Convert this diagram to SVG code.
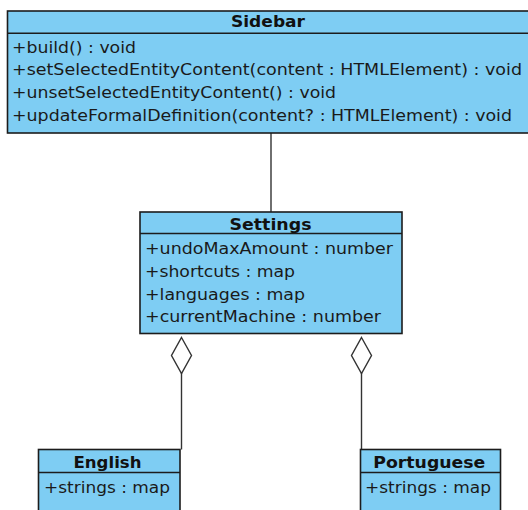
<svg xmlns="http://www.w3.org/2000/svg" width="528" height="510" viewBox="0 0 528 510">
  <style>
    .box { fill: #7ecdf3; stroke: #1c1c1c; stroke-width: 1.6; }
    .sep { stroke: #1c1c1c; stroke-width: 1.6; }
    .title { font-family: "DejaVu Sans", sans-serif; font-size: 16px; font-weight: bold; fill: #111; text-anchor: middle; }
    .member { font-family: "DejaVu Sans", sans-serif; font-size: 16px; fill: #1a1a1a; }
    .link { stroke: #333; stroke-width: 1.4; fill: none; }
    .agg { stroke: #333; stroke-width: 1.4; fill: #fff; }
  </style>
  <rect width="528" height="510" fill="#fff"/>

  <g id="connectors">
    <line class="link" x1="271" y1="133" x2="271" y2="212"/>
    <line class="link" x1="181.5" y1="373" x2="181.5" y2="449.5"/>
    <polygon class="agg" points="181.5,337.5 191.5,355.5 181.5,373.5 171.5,355.5"/>
    <line class="link" x1="361.5" y1="373" x2="361.5" y2="449.5"/>
    <polygon class="agg" points="361.5,337.5 371.5,355.5 361.5,373.5 351.5,355.5"/>
  </g>

  <g id="sidebar">
    <rect class="box" x="7.5" y="11" width="523" height="122"/>
    <line class="sep" x1="7.5" y1="33.3" x2="530" y2="33.3"/>
    <text class="title" x="268" y="27.3" textLength="74" lengthAdjust="spacingAndGlyphs">Sidebar</text>
    <text class="member" x="12" y="52.5" textLength="124" lengthAdjust="spacingAndGlyphs">+build() : void</text>
    <text class="member" x="12" y="75.2" textLength="510" lengthAdjust="spacingAndGlyphs">+setSelectedEntityContent(content : HTMLElement) : void</text>
    <text class="member" x="12" y="97.9" textLength="324" lengthAdjust="spacingAndGlyphs">+unsetSelectedEntityContent() : void</text>
    <text class="member" x="12" y="120.6" textLength="500" lengthAdjust="spacingAndGlyphs">+updateFormalDefinition(content? : HTMLElement) : void</text>
  </g>

  <g id="settings">
    <rect class="box" x="140" y="212" width="262" height="121.5"/>
    <line class="sep" x1="140" y1="233.5" x2="402" y2="233.5"/>
    <text class="title" x="270.5" y="229.5" textLength="82" lengthAdjust="spacingAndGlyphs">Settings</text>
    <text class="member" x="145" y="254.3" textLength="248" lengthAdjust="spacingAndGlyphs">+undoMaxAmount : number</text>
    <text class="member" x="145" y="277" textLength="150" lengthAdjust="spacingAndGlyphs">+shortcuts : map</text>
    <text class="member" x="145" y="299.7" textLength="160" lengthAdjust="spacingAndGlyphs">+languages : map</text>
    <text class="member" x="145" y="322.4" textLength="236" lengthAdjust="spacingAndGlyphs">+currentMachine : number</text>
  </g>

  <g id="english">
    <rect class="box" x="38.5" y="449.5" width="141.5" height="70"/>
    <line class="sep" x1="38.5" y1="472.5" x2="180" y2="472.5"/>
    <text class="title" x="107.5" y="467.5" textLength="68" lengthAdjust="spacingAndGlyphs">English</text>
    <text class="member" x="44" y="493.3" textLength="126" lengthAdjust="spacingAndGlyphs">+strings : map</text>
  </g>

  <g id="portuguese">
    <rect class="box" x="360.5" y="449.5" width="140" height="70"/>
    <line class="sep" x1="360.5" y1="472.5" x2="500.5" y2="472.5"/>
    <text class="title" x="429.3" y="467.5" textLength="112" lengthAdjust="spacingAndGlyphs">Portuguese</text>
    <text class="member" x="365" y="493.3" textLength="126" lengthAdjust="spacingAndGlyphs">+strings : map</text>
  </g>
</svg>
